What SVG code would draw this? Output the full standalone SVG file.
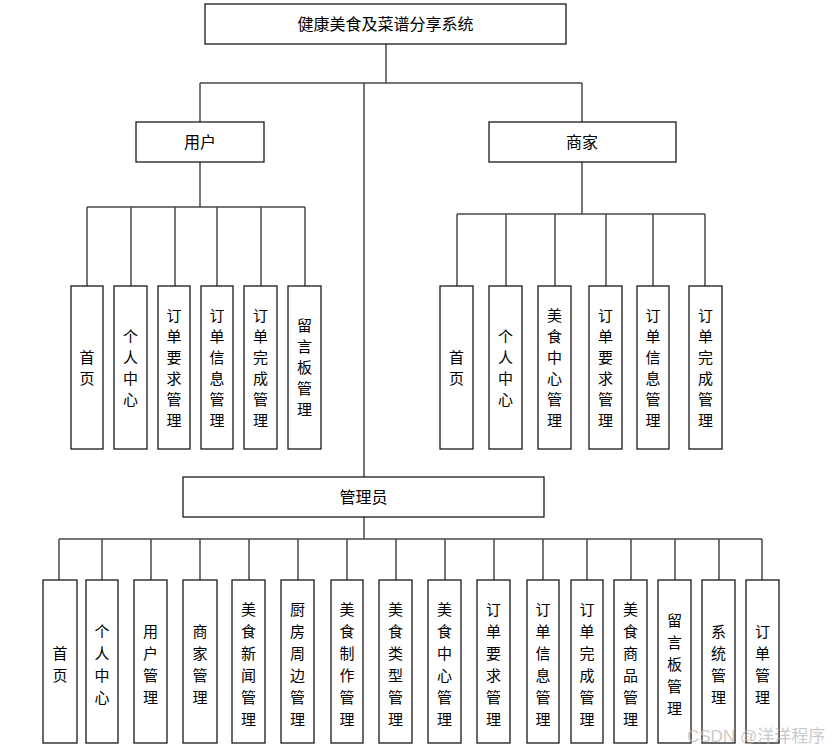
<svg xmlns="http://www.w3.org/2000/svg" width="839" height="754" viewBox="0 0 839 754">
<style>
.box{fill:#fff;stroke:#1a1a1a;stroke-width:1.3}
.ln{fill:none;stroke:#4a4a4a;stroke-width:1.5}
.t{font-family:"Noto Sans CJK SC","Liberation Sans",sans-serif;font-size:15px;fill:#000;text-anchor:middle;dominant-baseline:central}
.h{font-size:16px}
.wm{font-family:"Liberation Sans","Noto Sans CJK SC",sans-serif;font-size:17px;fill:#bbb;fill-opacity:0.8}
</style>
<rect width="839" height="754" fill="#fff"/>
<g id="connectors">
<path class="ln" d="M386 44V83M200 83H582M200 83V122M582 83V122M364 83V477"/>
<path class="ln" d="M200 162V207M87 207H305M87 207V286M131 207V286M175 207V286M217 207V286M261 207V286M305 207V286"/>
<path class="ln" d="M582 162V214M457 214H705M457 214V286M506 214V286M555 214V286M606 214V286M653 214V286M705 214V286"/>
<path class="ln" d="M364 517V539M59 539H762M59 539V580M102 539V580M151 539V580M200 539V580M249 539V580M298 539V580M347 539V580M396 539V580M445 539V580M494 539V580M543 539V580M587 539V580M631 539V580M675 539V580M719 539V580M762 539V580"/>
</g>
<g id="root"><rect class="box" x="205" y="4" width="361" height="40"/><text class="t h" x="385.5" y="23">健康美食及菜谱分享系统</text></g>
<g id="user"><rect class="box" x="136" y="122" width="128" height="40"/><text class="t h" x="200" y="141">用户</text></g>
<g id="merchant"><rect class="box" x="489" y="122" width="187" height="40"/><text class="t h" x="582" y="141">商家</text></g>
<g id="admin"><rect class="box" x="183" y="477" width="361" height="40"/><text class="t h" x="363.5" y="496">管理员</text></g>

<g id="u1"><rect class="box" x="71" y="286" width="32" height="163"/><text class="t"><tspan x="87" y="355.5">首</tspan><tspan x="87" y="376.5">页</tspan></text></g>
<g id="u2"><rect class="box" x="114" y="286" width="33" height="163"/><text class="t"><tspan x="130.5" y="334.5">个</tspan><tspan x="130.5" y="355.5">人</tspan><tspan x="130.5" y="376.5">中</tspan><tspan x="130.5" y="397.5">心</tspan></text></g>
<g id="u3"><rect class="box" x="158" y="286" width="32" height="163"/><text class="t"><tspan x="174" y="313.5">订</tspan><tspan x="174" y="334.5">单</tspan><tspan x="174" y="355.5">要</tspan><tspan x="174" y="376.5">求</tspan><tspan x="174" y="397.5">管</tspan><tspan x="174" y="418.5">理</tspan></text></g>
<g id="u4"><rect class="box" x="201" y="286" width="32" height="163"/><text class="t"><tspan x="217" y="313.5">订</tspan><tspan x="217" y="334.5">单</tspan><tspan x="217" y="355.5">信</tspan><tspan x="217" y="376.5">息</tspan><tspan x="217" y="397.5">管</tspan><tspan x="217" y="418.5">理</tspan></text></g>
<g id="u5"><rect class="box" x="244" y="286" width="33" height="163"/><text class="t"><tspan x="260.5" y="313.5">订</tspan><tspan x="260.5" y="334.5">单</tspan><tspan x="260.5" y="355.5">完</tspan><tspan x="260.5" y="376.5">成</tspan><tspan x="260.5" y="397.5">管</tspan><tspan x="260.5" y="418.5">理</tspan></text></g>
<g id="u6"><rect class="box" x="288" y="286" width="33" height="163"/><text class="t"><tspan x="304.5" y="324">留</tspan><tspan x="304.5" y="345">言</tspan><tspan x="304.5" y="366">板</tspan><tspan x="304.5" y="387">管</tspan><tspan x="304.5" y="408">理</tspan></text></g>

<g id="m1"><rect class="box" x="440" y="286" width="33" height="163"/><text class="t"><tspan x="456.5" y="355.5">首</tspan><tspan x="456.5" y="376.5">页</tspan></text></g>
<g id="m2"><rect class="box" x="489" y="286" width="33" height="163"/><text class="t"><tspan x="505.5" y="334.5">个</tspan><tspan x="505.5" y="355.5">人</tspan><tspan x="505.5" y="376.5">中</tspan><tspan x="505.5" y="397.5">心</tspan></text></g>
<g id="m3"><rect class="box" x="538" y="286" width="33" height="163"/><text class="t"><tspan x="554.5" y="313.5">美</tspan><tspan x="554.5" y="334.5">食</tspan><tspan x="554.5" y="355.5">中</tspan><tspan x="554.5" y="376.5">心</tspan><tspan x="554.5" y="397.5">管</tspan><tspan x="554.5" y="418.5">理</tspan></text></g>
<g id="m4"><rect class="box" x="589" y="286" width="33" height="163"/><text class="t"><tspan x="605.5" y="313.5">订</tspan><tspan x="605.5" y="334.5">单</tspan><tspan x="605.5" y="355.5">要</tspan><tspan x="605.5" y="376.5">求</tspan><tspan x="605.5" y="397.5">管</tspan><tspan x="605.5" y="418.5">理</tspan></text></g>
<g id="m5"><rect class="box" x="637" y="286" width="32" height="163"/><text class="t"><tspan x="653" y="313.5">订</tspan><tspan x="653" y="334.5">单</tspan><tspan x="653" y="355.5">信</tspan><tspan x="653" y="376.5">息</tspan><tspan x="653" y="397.5">管</tspan><tspan x="653" y="418.5">理</tspan></text></g>
<g id="m6"><rect class="box" x="689" y="286" width="33" height="163"/><text class="t"><tspan x="705.5" y="313.5">订</tspan><tspan x="705.5" y="334.5">单</tspan><tspan x="705.5" y="355.5">完</tspan><tspan x="705.5" y="376.5">成</tspan><tspan x="705.5" y="397.5">管</tspan><tspan x="705.5" y="418.5">理</tspan></text></g>

<g id="a1"><rect class="box" x="43" y="580" width="34" height="163"/><text class="t"><tspan x="60" y="652">首</tspan><tspan x="60" y="674">页</tspan></text></g>
<g id="a2"><rect class="box" x="86" y="580" width="32" height="163"/><text class="t"><tspan x="102" y="630">个</tspan><tspan x="102" y="652">人</tspan><tspan x="102" y="674">中</tspan><tspan x="102" y="696">心</tspan></text></g>
<g id="a3"><rect class="box" x="134" y="580" width="33" height="163"/><text class="t"><tspan x="150.5" y="630">用</tspan><tspan x="150.5" y="652">户</tspan><tspan x="150.5" y="674">管</tspan><tspan x="150.5" y="696">理</tspan></text></g>
<g id="a4"><rect class="box" x="183" y="580" width="34" height="163"/><text class="t"><tspan x="200" y="630">商</tspan><tspan x="200" y="652">家</tspan><tspan x="200" y="674">管</tspan><tspan x="200" y="696">理</tspan></text></g>
<g id="a5"><rect class="box" x="232" y="580" width="33" height="163"/><text class="t"><tspan x="248.5" y="608">美</tspan><tspan x="248.5" y="630">食</tspan><tspan x="248.5" y="652">新</tspan><tspan x="248.5" y="674">闻</tspan><tspan x="248.5" y="696">管</tspan><tspan x="248.5" y="718">理</tspan></text></g>
<g id="a6"><rect class="box" x="281" y="580" width="33" height="163"/><text class="t"><tspan x="297.5" y="608">厨</tspan><tspan x="297.5" y="630">房</tspan><tspan x="297.5" y="652">周</tspan><tspan x="297.5" y="674">边</tspan><tspan x="297.5" y="696">管</tspan><tspan x="297.5" y="718">理</tspan></text></g>
<g id="a7"><rect class="box" x="331" y="580" width="32" height="163"/><text class="t"><tspan x="347" y="608">美</tspan><tspan x="347" y="630">食</tspan><tspan x="347" y="652">制</tspan><tspan x="347" y="674">作</tspan><tspan x="347" y="696">管</tspan><tspan x="347" y="718">理</tspan></text></g>
<g id="a8"><rect class="box" x="379" y="580" width="33" height="163"/><text class="t"><tspan x="395.5" y="608">美</tspan><tspan x="395.5" y="630">食</tspan><tspan x="395.5" y="652">类</tspan><tspan x="395.5" y="674">型</tspan><tspan x="395.5" y="696">管</tspan><tspan x="395.5" y="718">理</tspan></text></g>
<g id="a9"><rect class="box" x="428" y="580" width="33" height="163"/><text class="t"><tspan x="444.5" y="608">美</tspan><tspan x="444.5" y="630">食</tspan><tspan x="444.5" y="652">中</tspan><tspan x="444.5" y="674">心</tspan><tspan x="444.5" y="696">管</tspan><tspan x="444.5" y="718">理</tspan></text></g>
<g id="a10"><rect class="box" x="477" y="580" width="33" height="163"/><text class="t"><tspan x="493.5" y="608">订</tspan><tspan x="493.5" y="630">单</tspan><tspan x="493.5" y="652">要</tspan><tspan x="493.5" y="674">求</tspan><tspan x="493.5" y="696">管</tspan><tspan x="493.5" y="718">理</tspan></text></g>
<g id="a11"><rect class="box" x="527" y="580" width="32" height="163"/><text class="t"><tspan x="543" y="608">订</tspan><tspan x="543" y="630">单</tspan><tspan x="543" y="652">信</tspan><tspan x="543" y="674">息</tspan><tspan x="543" y="696">管</tspan><tspan x="543" y="718">理</tspan></text></g>
<g id="a12"><rect class="box" x="571" y="580" width="32" height="163"/><text class="t"><tspan x="587" y="608">订</tspan><tspan x="587" y="630">单</tspan><tspan x="587" y="652">完</tspan><tspan x="587" y="674">成</tspan><tspan x="587" y="696">管</tspan><tspan x="587" y="718">理</tspan></text></g>
<g id="a13"><rect class="box" x="614" y="580" width="33" height="163"/><text class="t"><tspan x="630.5" y="608">美</tspan><tspan x="630.5" y="630">食</tspan><tspan x="630.5" y="652">商</tspan><tspan x="630.5" y="674">品</tspan><tspan x="630.5" y="696">管</tspan><tspan x="630.5" y="718">理</tspan></text></g>
<g id="a14"><rect class="box" x="658" y="580" width="33" height="163"/><text class="t"><tspan x="674.5" y="619">留</tspan><tspan x="674.5" y="641">言</tspan><tspan x="674.5" y="663">板</tspan><tspan x="674.5" y="685">管</tspan><tspan x="674.5" y="707">理</tspan></text></g>
<g id="a15"><rect class="box" x="702" y="580" width="33" height="163"/><text class="t"><tspan x="718.5" y="630">系</tspan><tspan x="718.5" y="652">统</tspan><tspan x="718.5" y="674">管</tspan><tspan x="718.5" y="696">理</tspan></text></g>
<g id="a16"><rect class="box" x="746" y="580" width="33" height="163"/><text class="t"><tspan x="762.5" y="630">订</tspan><tspan x="762.5" y="652">单</tspan><tspan x="762.5" y="674">管</tspan><tspan x="762.5" y="696">理</tspan></text></g>

<text class="wm" x="687" y="742">CSDN @洋洋程序</text>
</svg>
